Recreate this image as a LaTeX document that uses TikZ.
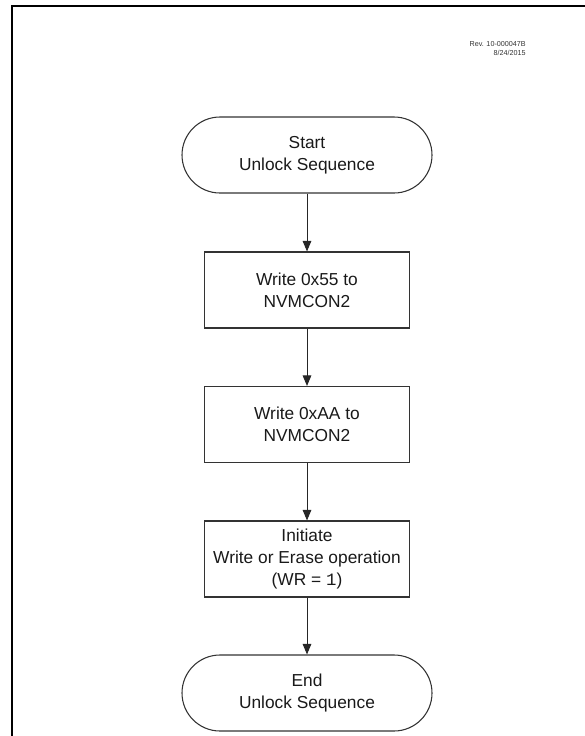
\documentclass[tikz,border=0pt]{standalone}
\usepackage{fontspec}
\setmainfont{Liberation Sans}
\newfontfamily\monofont{Liberation Mono}
\usetikzlibrary{arrows.meta}
\begin{document}
\begin{tikzpicture}[x=0.75pt,y=-0.75pt,
  txt/.style={align=center, font=\fontsize{13}{16.5}\selectfont, inner sep=0pt, text=black!90},
  term/.style={txt, draw=black!80, line width=0.8pt, rounded corners=28.5pt, minimum width=187.5pt, minimum height=57pt},
  proc/.style={txt, draw=black!80, line width=0.8pt, minimum width=153.75pt, minimum height=57pt},
  arr/.style={-{Triangle[length=8pt,width=6.5pt]}, line width=0.75pt, draw=black!85, fill=black!85},
  rev/.style={font=\fontsize{5.4}{6.5}\selectfont, inner sep=0pt, anchor=base east, text=black!80}]
\useasboundingbox (0,0) rectangle (585,736);
\draw[line width=1.6pt, line join=miter] (12,737) -- (12,6) -- (586,6);
\node[rev] (rev1) at (526,46) {Rev. 10-000047B};
\node[rev] (rev2) at (526,55) {8/24/2015};
\node[term] (start) at (307,155) {Start\\Unlock Sequence};
\node[proc] (w55) at (307,290) {Write 0x55 to\\NVMCON2};
\node[proc] (waa) at (307,424.5) {Write 0xAA to\\NVMCON2};
\node[proc] (init) at (307,559) {Initiate\\Write or Erase operation\\(WR = {\monofont 1})};
\node[term] (stop) at (307,693) {End\\Unlock Sequence};
\draw[arr] (start) -- (w55);
\draw[arr] (w55) -- (waa);
\draw[arr] (waa) -- (init);
\draw[arr] (init) -- (stop);
\end{tikzpicture}
\end{document}
